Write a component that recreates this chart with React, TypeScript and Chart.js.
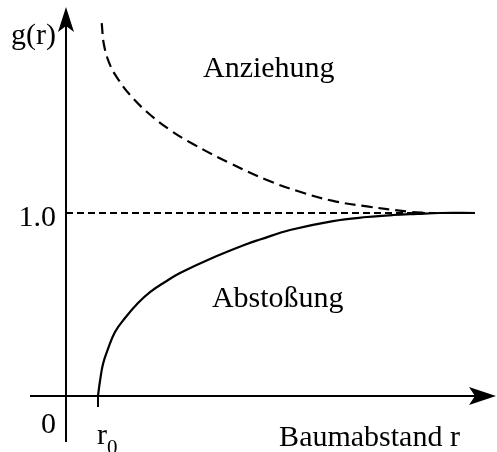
import React, { useEffect, useRef } from "react";
import { Chart, registerables } from "chart.js";

Chart.register(...registerables);

// Repulsion curve (Abstoßung), r in units where r0 = 1
const solidR = [1.0, 1.0625, 1.156, 1.3125, 1.531, 1.844, 2.25, 2.625, 3.094, 3.5625, 4.5, 5.656, 6.0625, 7.0, 8.344, 9.406, 10.22, 10.97, 11.69, 12.78];
const solidG = [0, 0.082, 0.175, 0.257, 0.35, 0.426, 0.508, 0.568, 0.623, 0.672, 0.749, 0.831, 0.855, 0.907, 0.956, 0.978, 0.989, 0.995, 1.0, 1.0];

// Attraction curve (Anziehung)
const dashR = [1.116, 1.1875, 1.375, 1.625, 2.0, 2.531, 3.25, 3.969, 5.125, 6.28, 7.31, 8.344, 9.406, 10.66, 11.375];
const dashG = [2.038, 1.918, 1.809, 1.732, 1.645, 1.552, 1.454, 1.377, 1.272, 1.18, 1.116, 1.066, 1.036, 1.008, 1.0];

// Reference level g(r) = 1
const refR = [0, 12.78];
const refG = [1, 1];

const R0 = 1;
const yTickLabels = ["0", "1.0"];
const axisTitles = ["g(r)", "Baumabstand r"];
const regionLabels = ["Anziehung", "Abstoßung"];

const FONT = "30px 'Liberation Serif', 'Times New Roman', serif";

const axesPlugin = {
  id: "drawnAxes",
  afterDatasetsDraw(chart: any) {
    const ctx = chart.ctx;
    const xs = chart.scales.x;
    const ys = chart.scales.y;
    const x0 = xs.getPixelForValue(0);
    const y0 = ys.getPixelForValue(0);
    const y1 = ys.getPixelForValue(1);
    const left = chart.chartArea.left;
    const right = chart.chartArea.right;
    const top = chart.chartArea.top;
    const bottom = chart.chartArea.bottom;
    ctx.save();
    ctx.strokeStyle = "#000";
    ctx.fillStyle = "#000";
    ctx.lineWidth = 2;
    ctx.setLineDash([]);
    // y axis
    ctx.beginPath();
    ctx.moveTo(x0, bottom - 10);
    ctx.lineTo(x0, top + 20);
    ctx.stroke();
    // x axis
    ctx.beginPath();
    ctx.moveTo(left + 30, y0);
    ctx.lineTo(right - 15, y0);
    ctx.stroke();
    // r0 tick
    const xr0 = xs.getPixelForValue(R0);
    ctx.beginPath();
    ctx.moveTo(xr0, y0);
    ctx.lineTo(xr0, y0 + 11);
    ctx.stroke();
    // y arrowhead
    const ty = top + 7;
    ctx.beginPath();
    ctx.moveTo(x0, ty);
    ctx.lineTo(x0 + 8, ty + 25);
    ctx.lineTo(x0, ty + 19);
    ctx.lineTo(x0 - 8, ty + 25);
    ctx.closePath();
    ctx.fill();
    // x arrowhead
    const tx = right - 1;
    ctx.beginPath();
    ctx.moveTo(tx, y0);
    ctx.lineTo(tx - 27, y0 - 9);
    ctx.lineTo(tx - 21, y0);
    ctx.lineTo(tx - 27, y0 + 9);
    ctx.closePath();
    ctx.fill();

    // texts
    ctx.font = FONT;
    ctx.textBaseline = "alphabetic";
    ctx.textAlign = "right";
    ctx.fillText(yTickLabels[0], x0 - 10, y0 + 37);
    ctx.fillText(yTickLabels[1], x0 - 10, y1 + 13);
    ctx.textAlign = "left";
    ctx.fillText(axisTitles[0], left + 11, top + 44);
    ctx.fillText(axisTitles[1], xs.getPixelForValue(6.66), y0 + 50);
    ctx.fillText(regionLabels[0], xs.getPixelForValue(4.28), ys.getPixelForValue(1.743));
    ctx.fillText(regionLabels[1], xs.getPixelForValue(4.56), ys.getPixelForValue(0.486));
    // r0 with subscript
    ctx.fillText("r", xr0 - 1, y0 + 48);
    ctx.font = "21px 'Liberation Serif', 'Times New Roman', serif";
    ctx.fillText("0", xr0 + 9, y0 + 58);
    ctx.restore();
  },
};

export default function App() {
  const ref = useRef<HTMLCanvasElement | null>(null);
  useEffect(() => {
    if (!ref.current) return;
    const toPts = (xa: number[], ya: number[]) => xa.map((x, i) => ({ x, y: ya[i] }));
    const chart = new Chart(ref.current, {
      type: "line",
      data: {
        datasets: [
          {
            data: toPts(refR, refG),
            borderColor: "#000",
            borderWidth: 2,
            borderDash: [7, 4],
            pointRadius: 0,
            tension: 0,
          },
          {
            data: toPts(dashR, dashG),
            borderColor: "#000",
            borderWidth: 2.2,
            borderDash: [11, 6],
            pointRadius: 0,
            tension: 0.4,
          },
          {
            data: toPts(solidR, solidG),
            borderColor: "#000",
            borderWidth: 2.2,
            pointRadius: 0,
            tension: 0.4,
          },
        ],
      },
      options: {
        animation: false,
        responsive: false,
        layout: { padding: 0 },
        plugins: { legend: { display: false }, tooltip: { enabled: false } },
        scales: {
          x: { type: "linear", min: -66 / 32, max: 431 / 32, display: false },
          y: { type: "linear", min: -56 / 183, max: 396 / 183, display: false },
        },
      },
      plugins: [axesPlugin],
    } as any);
    return () => chart.destroy();
  }, []);
  return (
    <div style={{ position: "fixed", left: 0, top: 0, width: 497, height: 452, background: "#fff" }}>
      <canvas ref={ref} width={497} height={452} style={{ display: "block" }} />
    </div>
  );
}
